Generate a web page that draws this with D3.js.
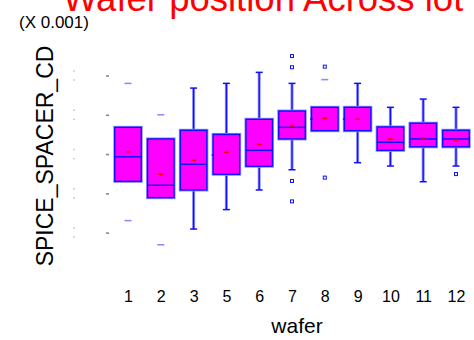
<!DOCTYPE html>
<html>
<head>
<meta charset="utf-8">
<script src="https://cdn.jsdelivr.net/npm/d3@7"></script>
<style>
  html, body { margin: 0; padding: 0; background: #fff; }
  svg { display: block; font-family: "Liberation Sans", Arial, sans-serif; }
</style>
</head>
<body>
<svg id="chart" width="474" height="340"></svg>
<script>
// Wafer groups along the x axis
const wafers = ["1", "2", "3", "5", "6", "7", "8", "9", "10", "11", "12"];

// Box statistics per wafer (units of 0.001)
const q1Values     = [28.61, 27.78, 28.17, 28.97, 29.38, 30.77, 31.19, 31.19, 30.19, 30.37, 30.37];
const q3Values     = [31.36, 30.77, 31.21, 31.00, 31.77, 32.19, 32.38, 32.38, 31.38, 31.57, 31.21];
const medianValues = [29.86, 28.41, 29.48, 29.95, 30.19, 31.36, 31.78, 31.78, 30.60, 30.77, 30.77];
const meanValues   = [30.12, 28.97, 29.68, 30.09, 30.50, 31.43, 31.82, 31.78, 30.77, 30.82, 30.71];
const whiskerLow   = [28.61, 27.78, 26.18, 27.17, 28.17, 29.20, 31.19, 29.56, 29.39, 28.59, 29.39];
const whiskerHigh  = [31.36, 30.77, 33.36, 33.60, 34.16, 33.60, 32.38, 33.60, 32.38, 32.80, 32.38];

// Outlying observations: far values (dash markers) and near values (square markers)
const farOutliers = [
  ["1", 33.60], ["1", 26.61],
  ["2", 32.00], ["2", 25.38],
  ["8", 33.79]
];
const nearOutliers = [
  ["7", 34.99], ["7", 34.42], ["7", 28.63], ["7", 27.59],
  ["8", 34.45], ["8", 28.80],
  ["12", 28.98]
];

// Value-axis ticks
const yTicks = [26, 28, 30, 32, 34];

// Boxes whose median is drawn only as a short stub on the left edge
const medianStubOnly = ["5", "8", "9"];

const svg = d3.select("#chart");

const x = d3.scalePoint().domain(wafers).range([128, 456]);
const y = d3.scaleLinear().domain([26, 34]).range([232.6, 75.5]);
const boxW = 26.5;
const capW = 7;

const BLUE = "#1010ff";
const HALO = "#8c8cff";
const MAGENTA = "#ff00ff";
const RED = "#ff0000";

// Title (partly above the visible area)
svg.append("text")
  .attr("x", 63).attr("y", 11)
  .attr("fill", RED)
  .attr("font-size", 36.5)
  .text("Wafer position Across lot");

// Scale multiplier note
svg.append("text")
  .attr("x", 19).attr("y", 28)
  .attr("fill", "#000")
  .attr("font-size", 17)
  .text("(X 0.001)");

// Y axis title
svg.append("text")
  .attr("transform", "translate(53,156) rotate(-90)")
  .attr("text-anchor", "middle")
  .attr("fill", "#000")
  .attr("font-size", 23)
  .text("SPICE_SPACER_CD");

// Y axis: tick marks only, in light gray
const yAxis = svg.append("g")
  .attr("transform", "translate(109,0)")
  .call(d3.axisLeft(y).tickValues(yTicks).tickSize(3).tickFormat(""));
yAxis.select(".domain").remove();
yAxis.selectAll(".tick line").attr("stroke", "#8a8a8a").attr("stroke-width", 1.6);

// Faint label remnants next to each tick
const labelMarks = svg.append("g").attr("fill", "#9a9a9a");
yTicks.forEach(t => {
  [-4.5, 4.5].forEach(dy => {
    labelMarks.append("rect")
      .attr("x", 73.5).attr("y", y(t) + dy - 0.7)
      .attr("width", 1).attr("height", 1.4);
  });
});

// X axis labels
const xAxis = svg.append("g")
  .attr("transform", "translate(0,289)")
  .call(d3.axisBottom(x).tickSize(0).tickPadding(2));
xAxis.select(".domain").remove();
xAxis.selectAll(".tick text")
  .attr("font-family", "'Liberation Sans', Arial, sans-serif")
  .attr("font-size", 16)
  .attr("fill", "#000");

// X axis title
svg.append("text")
  .attr("x", 297).attr("y", 333)
  .attr("text-anchor", "middle")
  .attr("fill", "#000")
  .attr("font-size", 21)
  .text("wafer");

// Box plots
const boxes = wafers.map((w, i) => ({
  w, q1: q1Values[i], q3: q3Values[i], med: medianValues[i], mean: meanValues[i],
  lo: whiskerLow[i], hi: whiskerHigh[i]
}));

const g = svg.append("g");

boxes.forEach(b => {
  const cx = x(b.w);
  const bg = g.append("g");

  // whiskers with a soft halo
  [[b.q3, b.hi], [b.q1, b.lo]].forEach(([from, to]) => {
    if (Math.abs(from - to) < 1e-9) return;
    bg.append("line")
      .attr("x1", cx).attr("x2", cx).attr("y1", y(from)).attr("y2", y(to))
      .attr("stroke", HALO).attr("stroke-width", 3);
    bg.append("line")
      .attr("x1", cx).attr("x2", cx).attr("y1", y(from)).attr("y2", y(to))
      .attr("stroke", BLUE).attr("stroke-width", 1.3);
  });
  // whisker caps
  [b.hi, b.lo].forEach(v => {
    bg.append("line")
      .attr("x1", cx - capW / 2).attr("x2", cx + capW / 2)
      .attr("y1", y(v)).attr("y2", y(v))
      .attr("stroke", BLUE).attr("stroke-width", 1.5);
  });

  // box body
  bg.append("rect")
    .attr("x", cx - boxW / 2).attr("y", y(b.q3))
    .attr("width", boxW).attr("height", y(b.q1) - y(b.q3))
    .attr("fill", MAGENTA)
    .attr("stroke", HALO).attr("stroke-width", 3);
  bg.append("rect")
    .attr("x", cx - boxW / 2).attr("y", y(b.q3))
    .attr("width", boxW).attr("height", y(b.q1) - y(b.q3))
    .attr("fill", MAGENTA)
    .attr("stroke", BLUE).attr("stroke-width", 1.4);

  // median
  const stub = medianStubOnly.includes(b.w);
  bg.append("line")
    .attr("x1", cx - boxW / 2 - (stub ? 1.5 : 0))
    .attr("x2", stub ? cx - boxW / 2 + 1 : cx + boxW / 2)
    .attr("y1", y(b.med)).attr("y2", y(b.med))
    .attr("stroke", BLUE).attr("stroke-width", 1.5);

  // mean marker
  bg.append("line")
    .attr("x1", cx - 2.5).attr("x2", cx + 2.5)
    .attr("y1", y(b.mean)).attr("y2", y(b.mean))
    .attr("stroke", RED).attr("stroke-width", 1.3);
  bg.append("line")
    .attr("x1", cx).attr("x2", cx)
    .attr("y1", y(b.mean) - 1.5).attr("y2", y(b.mean) + 1.5)
    .attr("stroke", RED).attr("stroke-width", 1);
});

// Far outliers: short dashes
g.selectAll(".far").data(farOutliers).join("line")
  .attr("class", "far")
  .attr("x1", d => x(d[0]) - 3.5).attr("x2", d => x(d[0]) + 3.5)
  .attr("y1", d => y(d[1])).attr("y2", d => y(d[1]))
  .attr("stroke", HALO).attr("stroke-width", 1.6);

// Near outliers: small open squares
g.selectAll(".near").data(nearOutliers).join("rect")
  .attr("class", "near")
  .attr("x", d => x(d[0]) - 1.5).attr("y", d => y(d[1]) - 1.5)
  .attr("width", 3).attr("height", 3)
  .attr("fill", "#fff")
  .attr("stroke", BLUE).attr("stroke-width", 1);
</script>
</body>
</html>
